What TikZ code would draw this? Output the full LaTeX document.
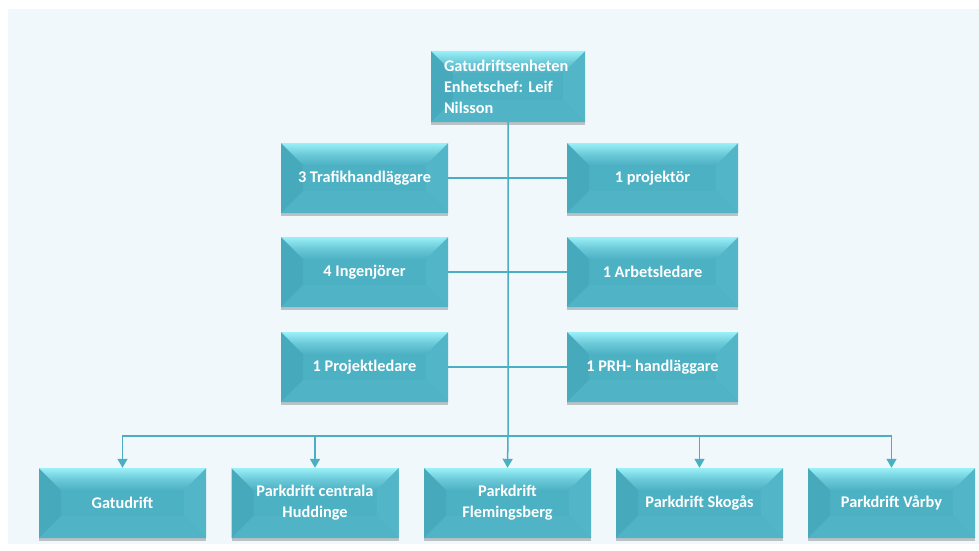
\documentclass[tikz,border=0pt]{standalone}
\usepackage{fontspec}
\setmainfont{Carlito}
\frenchspacing
\usetikzlibrary{arrows.meta,shadows,calc}
\definecolor{bg}{HTML}{F1F8FB}
\definecolor{face}{HTML}{4DB1C4}
\definecolor{lside}{HTML}{47A9BC}
\definecolor{rside}{HTML}{52B6C8}
\definecolor{tside}{HTML}{9AF0F8}
\definecolor{bside}{HTML}{50B4C6}
\definecolor{conn}{HTML}{4AAFC3}
\tikzset{
  bev/.style={rectangle, inner sep=0pt, minimum width=167pt, minimum height=70pt,
    text=white, font=\fontsize{16.3}{21}\selectfont\bfseries, align=center,
    drop shadow={shadow xshift=0pt, shadow yshift=-3pt, fill=black, opacity=0.22},
    path picture={
      \coordinate (sw) at (path picture bounding box.south west);
      \coordinate (ne) at (path picture bounding box.north east);
      \coordinate (nw) at (path picture bounding box.north west);
      \coordinate (se) at (path picture bounding box.south east);
      \fill[face] (sw) rectangle (ne);
      \fill[lside] (sw) -- (nw) -- ($(nw)+(22pt,-22pt)$) -- ($(sw)+(22pt,22pt)$) -- cycle;
      \fill[rside] (se) -- (ne) -- ($(ne)+(-22pt,-22pt)$) -- ($(se)+(-22pt,22pt)$) -- cycle;
      \fill[bside] (sw) -- (se) -- ($(se)+(-22pt,22pt)$) -- ($(sw)+(22pt,22pt)$) -- cycle;
      \shade[top color=tside, bottom color=face, middle color=face!60!tside] (nw) -- (ne) -- ($(ne)+(-22pt,-22pt)$) -- ($(nw)+(22pt,-22pt)$) -- cycle;
    }},
  link/.style={draw=conn, line width=1.5pt},
  arr/.style={link, -{Triangle[width=10pt,length=9pt]}},
}
\begin{document}
\begin{tikzpicture}[x=1pt,y=-1pt]
\useasboundingbox (0,0) rectangle (979,551);
\fill[bg] (8,9) rectangle (979,544);

\node[bev, minimum width=154, minimum height=71, text width=128, align=left] (top) at (508,86.5)
  {Gatudriftsenheten\\Enhetschef: Leif\\Nilsson};

\node[bev] (traf) at (364.5,178) {3 Trafikhandläggare};
\node[bev] (ing)  at (364.5,272) {4 Ingenjörer};
\node[bev] (pled) at (364.5,367) {1 Projektledare};
\node[bev, minimum width=171] (proj) at (652.5,178) {1 projektör};
\node[bev, minimum width=171] (arb)  at (652.5,272) {1 Arbetsledare};
\node[bev, minimum width=171] (prh)  at (652.5,367) {1 PRH- handläggare};

\node[bev] (gatu)  at (122.5,503) {Gatudrift};
\node[bev] (chud)  at (315,503) {Parkdrift centrala\\Huddinge};
\node[bev] (flem)  at (507.5,503) {Parkdrift\\Flemingsberg};
\node[bev] (skog)  at (699.5,503) {Parkdrift Skogås};
\node[bev] (varb)  at (891.5,503) {Parkdrift Vårby};

\coordinate (bus) at (508,436);

\draw[link] (traf.east) -- (proj.west);
\draw[link] (ing.east) -- (arb.west);
\draw[link] (pled.east) -- (prh.west);
\draw[arr] (top.south) -- (bus) -- (flem.north);
\draw[arr] (bus) -| (gatu.north);
\draw[arr] (bus) -| (chud.north);
\draw[arr] (bus) -| (skog.north);
\draw[arr] (bus) -| (varb.north);
\end{tikzpicture}
\end{document}
